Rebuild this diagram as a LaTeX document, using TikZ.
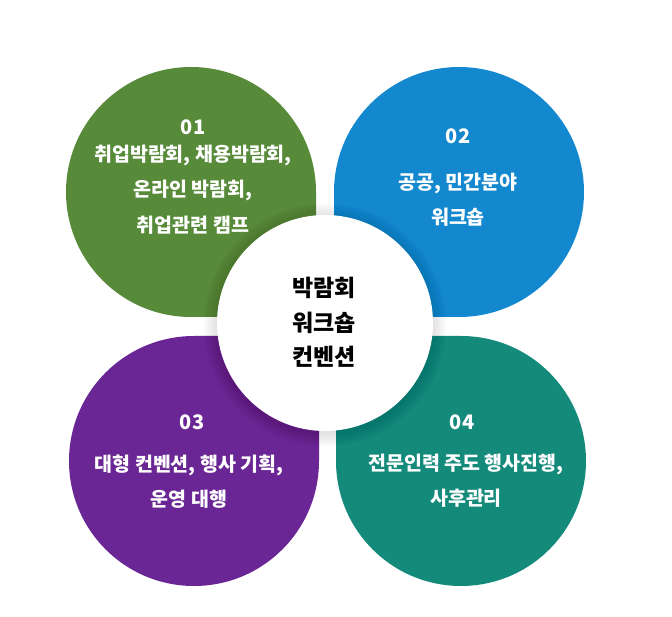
\documentclass[tikz,border=0pt]{standalone}
\usepackage{fontspec}
\newfontfamily\krfont{Noto Sans CJK KR}
\definecolor{pgreen}{RGB}{87,138,57}
\definecolor{pblue}{RGB}{19,136,207}
\definecolor{ppurple}{RGB}{105,38,148}
\definecolor{pteal}{RGB}{20,138,123}
\tikzset{
  numtxt/.style={text=white, font=\krfont\bfseries\fontsize{20}{22}\selectfont, inner sep=0pt},
  bodytxt/.style={text=white, align=center, font=\krfont\bfseries\fontsize{19.5}{35.5}\selectfont, inner sep=0pt},
  centertxt/.style={text=black, align=center, font=\krfont\bfseries\fontsize{23}{34.5}\selectfont, inner sep=0pt},
}
\begin{document}
\begin{tikzpicture}[x=1pt,y=1pt]
\useasboundingbox (0,0) rectangle (672,616);
\fill[white] (0,0) rectangle (672,616);
% petals (r = 125)
\fill[pgreen] (316,424) arc[start angle=0, end angle=270, radius=125] -- (316,299) -- cycle;
\fill[pblue] (459,299) arc[start angle=270, end angle=540, radius=125] -- (334,299) -- cycle;
\fill[ppurple] (194,280) arc[start angle=90, end angle=360, radius=125] -- (319,280) -- cycle;
\fill[pteal] (336,155) arc[start angle=180, end angle=450, radius=125] -- (336,280) -- cycle;
% shadow of centre circle
\foreach \i in {1,...,14} {
  \fill[black, opacity=0.009] (325,291) circle[radius=108+\i];
}
\node[circle, fill=white, minimum size=216pt, inner sep=0pt] (hub) at (325,293) {};
% texts
\node[numtxt] (n1) at (193,489) {01};
\node[bodytxt] (t1) at (193,426.5) {취업박람회, 채용박람회,\\온라인 박람회,\\취업관련 캠프};
\node[numtxt] (n2) at (458,480) {02};
\node[bodytxt] (t2) at (458,416.5) {공공, 민간분야\\워크숍};
\node[numtxt] (n3) at (192,194) {03};
\node[bodytxt] (t3) at (189,134.5) {대형 컨벤션, 행사 기획,\\운영 대행};
\node[numtxt] (n4) at (462,194) {04};
\node[bodytxt] (t4) at (466,135.5) {전문인력 주도 행사진행,\\사후관리};
\node[centertxt] (ct) at (324,293.5) {박람회\\워크숍\\컨벤션};
\end{tikzpicture}
\end{document}
